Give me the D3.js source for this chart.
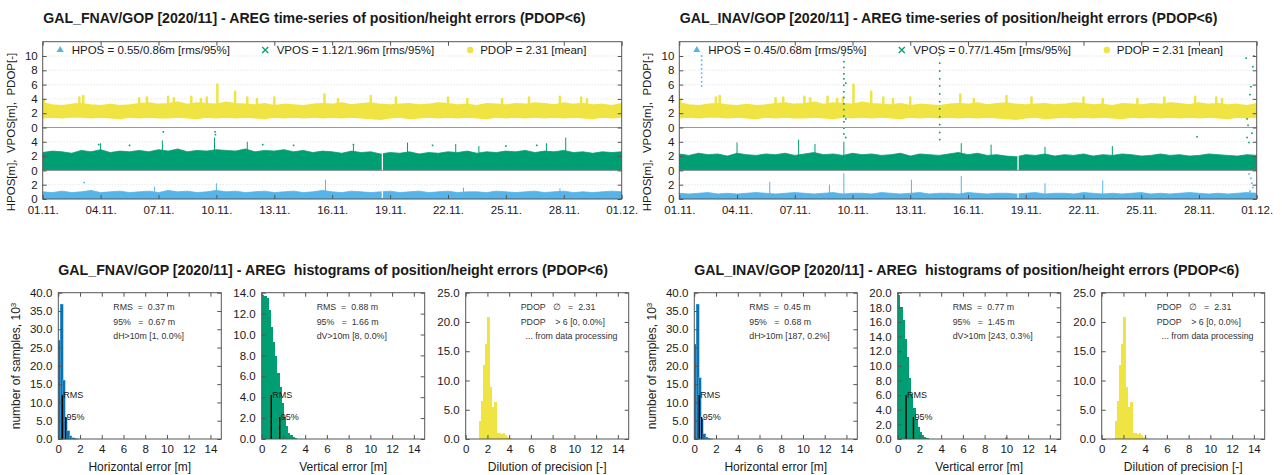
<!DOCTYPE html>
<html>
<head>
<meta charset="utf-8">
<script src="https://cdn.jsdelivr.net/npm/d3@7"></script>
<style>
  body { margin: 0; background: #fff; }
  svg { display: block; font-family: "Liberation Sans", Arial, sans-serif; }
  text { white-space: pre; }
</style>
</head>
<body>
<svg id="chart" width="1282" height="475"></svg>
<script>
// ---------------- data ----------------

// time axis: days since 01.11.2020, ticks every 3 days
const dayTicks = [0, 3, 6, 9, 12, 15, 18, 21, 24, 27, 30];
const dayLabels = ["01.11.", "04.11.", "07.11.", "10.11.", "13.11.", "16.11.", "19.11.", "22.11.", "25.11.", "28.11.", "01.12."];
// stacked y axis: HPOS 0..4, VPOS shifted by 4, PDOP shifted by 10
const tsTickValues = [0, 2, 4, 6, 8, 10, 12, 14, 16, 18, 20];
const tsTickLabels = ["0", "2", "0", "2", "4", "0", "2", "4", "6", "8", "10"];

// envelope of the scatter, sampled every half day (61 samples, day 0 .. 30)
const epochs = d3.range(0, 30.001, 0.5);
const pdopTop = [
  3.4, 3.1, 3.0, 3.2, 3.3, 3.1, 3.0, 3.2, 3.0, 3.1,
  3.3, 3.4, 3.2, 3.3, 3.5, 3.2, 3.4, 3.3, 3.2, 3.5,
  3.3, 3.2, 3.1, 3.3, 3.0, 3.2, 3.1, 3.0, 3.2, 3.3,
  3.2, 3.4, 3.1, 3.3, 3.4, 3.2, 3.1, 3.2, 3.3, 3.1,
  3.2, 3.4, 3.3, 3.1, 3.2, 3.0, 3.3, 3.2, 3.1, 3.3,
  3.2, 3.4, 3.3, 3.1, 3.4, 3.2, 3.3, 3.1, 3.2, 3.0,
  3.3];
const pdopLow = [
  1.4, 1.5, 1.4, 1.5, 1.5, 1.4, 1.5, 1.4, 1.3, 1.5,
  1.4, 1.5, 1.4, 1.4, 1.5, 1.4, 1.3, 1.5, 1.4, 1.5,
  1.4, 1.5, 1.4, 1.3, 1.5, 1.4, 1.5, 1.4, 1.5, 1.4,
  1.5, 1.4, 1.5, 1.4, 1.3, 1.2, 1.4, 1.5, 1.3, 1.4,
  1.5, 1.4, 1.5, 1.4, 1.5, 1.4, 1.3, 1.5, 1.4, 1.5,
  1.4, 1.5, 1.4, 1.5, 1.4, 1.5, 1.4, 1.3, 1.5, 1.4,
  1.5];
const fnavVTop = [
  2.5, 2.7, 2.6, 2.4, 2.8, 2.6, 2.9, 2.5, 2.7, 2.6,
  2.8, 2.6, 2.9, 2.7, 3.0, 2.6, 2.8, 2.7, 2.9, 2.8,
  2.7, 3.0, 2.6, 2.8, 2.7, 2.9, 2.6, 2.8, 2.5, 2.7,
  2.6, 2.4, 2.7, 2.5, 2.6, 2.3, 2.5, 2.4, 2.6, 2.3,
  2.5, 2.4, 2.6, 2.5, 2.7, 2.4, 2.6, 2.5, 2.7, 2.6,
  2.8, 2.5, 2.7, 2.6, 2.8, 2.5, 2.6, 2.4, 2.6, 2.5,
  2.6];
const fnavHTop = [
  1.0, 0.9, 1.1, 0.9, 1.0, 1.2, 0.9, 1.0, 1.1, 0.9,
  1.0, 1.1, 0.9, 1.2, 1.0, 1.1, 0.9, 1.0, 1.2, 1.0,
  1.1, 0.9, 1.0, 1.1, 0.9, 1.0, 1.1, 0.9, 1.0, 1.2,
  1.0, 0.9, 1.1, 1.0, 0.9, 1.0, 1.1, 0.9, 1.0, 1.1,
  0.9, 1.0, 1.1, 0.9, 1.0, 1.0, 0.9, 1.1, 1.0, 0.9,
  1.0, 1.1, 0.9, 1.0, 1.1, 0.9, 1.0, 0.9, 1.0, 1.1,
  1.0];
const inavVTop = [
  2.3, 2.1, 2.4, 2.2, 2.3, 2.0, 2.4, 2.2, 2.1, 2.3,
  2.2, 2.4, 2.1, 2.3, 2.5, 2.2, 2.3, 2.1, 2.4, 2.2,
  2.3, 2.1, 2.2, 2.4, 2.0, 2.3, 2.2, 2.1, 2.3, 2.5,
  2.2, 2.4, 2.1, 2.2, 2.0, 1.9, 2.2, 2.1, 2.3, 2.0,
  2.2, 2.1, 2.3, 2.0, 2.2, 2.1, 2.3, 2.2, 2.0, 2.1,
  2.3, 2.1, 2.2, 2.0, 2.1, 2.3, 2.2, 2.1, 2.0, 2.2,
  2.1];
const inavHTop = [
  0.8, 0.7, 0.8, 0.9, 0.7, 0.8, 0.7, 0.8, 0.9, 0.8,
  0.7, 0.8, 0.9, 0.8, 0.7, 0.8, 0.9, 0.7, 0.8, 0.8,
  0.7, 0.9, 0.8, 0.7, 0.8, 0.9, 0.7, 0.8, 0.8, 0.7,
  0.9, 0.8, 0.7, 0.8, 0.8, 0.7, 0.8, 0.9, 0.7, 0.8,
  0.8, 0.7, 0.9, 0.8, 0.7, 0.8, 0.7, 0.8, 0.9, 0.7,
  0.8, 0.7, 0.8, 0.9, 0.8, 0.7, 0.8, 0.7, 0.8, 0.9,
  0.8];
const dataGaps = [17.6];

// single peaks above the bands [day, value]
const pdopSpikes = [[0.05, 3.9], [1.9, 4.2], [2.1, 4.4], [5.0, 4.1], [5.4, 4.2], [6.5, 4.3], [6.8, 4.1],
  [7.7, 4.3], [8.2, 4.0], [8.5, 4.2], [9.05, 6.0], [9.97, 5.0], [10.6, 4.2], [11.1, 4.0], [12.0, 4.2],
  [14.6, 4.6], [15.3, 4.0], [17.0, 4.4], [18.3, 4.2], [21.0, 4.2], [22.0, 4.0], [23.8, 4.0],
  [25.2, 4.2], [26.8, 4.3], [27.9, 4.2], [28.2, 4.0]];
const fnavVSpikes = [[3.0, 3.8], [6.2, 4.2], [8.9, 4.6], [10.6, 4.0], [16.1, 3.5], [18.9, 3.9],
  [21.4, 3.7], [22.6, 3.4], [26.1, 3.8], [27.1, 4.6]];
const fnavHSpikes = [[5.8, 1.7], [9.0, 2.2], [14.65, 2.7], [21.8, 1.6], [26.8, 1.5]];
const fnavVDots = [[6.25, 5.4], [8.93, 5.4], [8.95, 5.0], [2.9, 3.6], [4.5, 3.5], [11.4, 3.6],
  [13.0, 3.5], [16.1, 3.6], [20.2, 3.5], [24.0, 3.4], [25.6, 3.5]];
const fnavHDots = [[2.15, 2.3]];

const inavVSpikes = [[3.0, 3.9], [6.2, 4.3], [7.05, 3.7], [8.55, 4.0], [14.65, 3.8], [16.2, 3.6],
  [19.0, 3.3], [22.5, 3.4]];
const inavHSpikes = [[4.7, 2.4], [7.8, 2.0], [8.55, 3.6], [12.06, 2.7], [14.65, 3.2], [19.0, 2.2], [22.0, 2.6]];
const inavVDots = [
  [8.55, 16.1], [8.55, 15.2], [8.55, 14.4], [8.55, 13.5], [8.55, 12.8], [8.55, 11.9], [8.55, 11.0],
  [8.55, 10.2], [8.55, 9.3], [8.55, 8.5], [8.55, 7.6], [8.55, 6.8], [8.55, 5.9], [8.55, 5.1],
  [8.65, 4.6], [8.65, 7.2], [8.65, 12.2],
  [13.53, 16.1], [13.53, 15.0], [13.53, 13.9], [13.53, 12.8], [13.53, 11.8], [13.53, 10.7],
  [13.53, 9.6], [13.53, 8.6], [13.53, 7.5], [13.53, 6.4], [13.53, 5.3], [13.53, 4.3],
  [26.9, 4.7], [29.45, 15.7], [29.8, 14.5], [29.7, 11.7], [29.65, 10.6], [29.5, 7.2],
  [29.55, 6.3], [29.5, 4.6], [29.6, 3.9], [29.75, 5.2], [29.85, 16.0]];
const inavHDots = [
  [1.16, 20.0], [1.16, 19.4], [1.16, 18.8], [1.16, 18.2], [1.16, 17.6], [1.16, 17.0], [1.16, 16.4], [1.16, 15.8],
  [29.6, 3.5], [29.7, 2.9], [29.75, 2.2], [29.8, 1.6], [29.65, 1.1]];

// histograms, 0.2 m / 0.2 bins, counts in 10^3
const binWidth = 0.2;
const fnavHBins = [27.0, 36.8, 16.1, 6.0, 2.2, 0.9, 0.4, 0.2, 0.1];
const fnavVBins = [13.8, 13.7, 13.5, 12.3, 10.7, 9.3, 7.9, 6.3, 5.0, 3.4, 2.1, 1.2, 0.6, 0.35, 0.15, 0.05];
const inavHBins = [25.9, 36.8, 16.7, 5.5, 1.4, 0.5, 0.2, 0.1];
const inavVBins = [19.7, 18.0, 16.2, 13.7, 11.2, 8.3, 6.2, 4.3, 2.7, 1.6, 0.9, 0.55, 0.25, 0.1];
const pdopBinStart = 1.2;
const pdopBins = [3.0, 6.5, 12.7, 16.2, 20.9, 8.9, 5.4, 6.3, 1.1, 1.0, 0.85, 1.0, 0.7, 0.4, 0.15];
const histXTicks = [0, 2, 4, 6, 8, 10, 12, 14];

// ---------------- drawing ----------------
const svg = d3.select("#chart");
const COL = { h: "#56b4e9", hDark: "#0a72b4", v: "#009e73", p: "#f0e442", text: "#1a1a1a", frame: "#555" };

const tsTop = 41.7, tsBottom = 199;

const tsPanels = [
  { left: 42.7, right: 621.7, title: "GAL_FNAV/GOP [2020/11] - AREG time-series of position/height errors (PDOP<6)",
    vTop: fnavVTop, hTop: fnavHTop, vSpikes: fnavVSpikes, hSpikes: fnavHSpikes, vDots: fnavVDots, hDots: fnavHDots,
    legend: ["HPOS = 0.55/0.86m [rms/95%]", "VPOS = 1.12/1.96m [rms/95%]", "PDOP = 2.31 [mean]"] },
  { left: 679.3, right: 1256.7, title: "GAL_INAV/GOP [2020/11] - AREG time-series of position/height errors (PDOP<6)",
    vTop: inavVTop, hTop: inavHTop, vSpikes: inavVSpikes, hSpikes: inavHSpikes, vDots: inavVDots, hDots: inavHDots,
    legend: ["HPOS = 0.45/0.68m [rms/95%]", "VPOS = 0.77/1.45m [rms/95%]", "PDOP = 2.31 [mean]"] }
];

function fitText(sel, target) {
  const w = sel.node().getComputedTextLength();
  sel.attr("font-size", parseFloat(sel.attr("font-size")) * target / w);
}

function styleAxis(g, size) {
  g.select(".domain").remove();
  g.selectAll(".tick line").attr("stroke", COL.frame);
  g.selectAll("text").attr("fill", COL.text).attr("font-size", size)
    .attr("font-family", "Liberation Sans, Arial, sans-serif");
}

tsPanels.forEach((p, k) => {
  const x = d3.scaleLinear().domain([0, 30]).range([p.left, p.right]);
  const y = d3.scaleLinear().domain([0, 22]).range([tsBottom, tsTop]);
  const g = svg.append("g");

  g.append("clipPath").attr("id", "clip" + k)
    .append("rect").attr("x", p.left).attr("y", tsTop).attr("width", p.right - p.left).attr("height", tsBottom - tsTop);

  // grid
  g.selectAll("line.grid").data(tsTickValues.filter(v => v > 0 && v !== 4 && v !== 10)).join("line")
    .attr("x1", p.left).attr("x2", p.right).attr("y1", d => y(d)).attr("y2", d => y(d))
    .attr("stroke", "#d6d6d6").attr("stroke-width", 0.8).attr("stroke-dasharray", "1,2");

  const plot = g.append("g").attr("clip-path", `url(#clip${k})`);

  const area = (offset, top, low) => d3.area()
    .x((d, i) => x(epochs[i]))
    .y0((d, i) => y(offset + (low ? low[i] : 0)))
    .y1((d, i) => y(offset + top[i]));

  // PDOP band (offset 10)
  plot.append("path").datum(pdopTop).attr("d", area(10, pdopTop, pdopLow))
    .attr("fill", COL.p).attr("stroke", COL.p).attr("stroke-width", 2).attr("stroke-linejoin", "round");
  plot.selectAll("line.ps").data(pdopSpikes).join("line")
    .attr("x1", d => x(d[0])).attr("x2", d => x(d[0]))
    .attr("y1", y(12.6)).attr("y2", d => y(10 + d[1]))
    .attr("stroke", COL.p).attr("stroke-width", 2.5).attr("stroke-linecap", "round");

  // VPOS band (offset 4)
  plot.append("path").datum(p.vTop).attr("d", area(4, p.vTop))
    .attr("fill", COL.v).attr("stroke", COL.v).attr("stroke-width", 0.8);
  plot.selectAll("line.vs").data(p.vSpikes).join("line")
    .attr("x1", d => x(d[0])).attr("x2", d => x(d[0]))
    .attr("y1", y(5.5)).attr("y2", d => y(4 + d[1]))
    .attr("stroke", COL.v).attr("stroke-width", 1);
  plot.selectAll("rect.vd").data(p.vDots).join("rect")
    .attr("x", d => x(d[0]) - 0.8).attr("y", d => y(4 + d[1]) - 0.8)
    .attr("width", 1.6).attr("height", 1.6).attr("fill", COL.v);

  // HPOS band (offset 0)
  plot.append("path").datum(p.hTop).attr("d", area(0, p.hTop))
    .attr("fill", COL.h).attr("stroke", COL.h).attr("stroke-width", 0.8);
  plot.selectAll("line.hs").data(p.hSpikes).join("line")
    .attr("x1", d => x(d[0])).attr("x2", d => x(d[0]))
    .attr("y1", y(0.5)).attr("y2", d => y(d[1]))
    .attr("stroke", COL.h).attr("stroke-width", 1);
  plot.selectAll("rect.hd").data(p.hDots).join("rect")
    .attr("x", d => x(d[0]) - 0.8).attr("y", d => y(d[1]) - 0.8)
    .attr("width", 1.6).attr("height", 1.6).attr("fill", COL.h);

  // data gaps
  plot.selectAll("line.gap").data(dataGaps).join("line")
    .attr("x1", d => x(d)).attr("x2", d => x(d)).attr("y1", y(0.15)).attr("y2", y(7.5))
    .attr("stroke", "#fff").attr("stroke-width", 1.3);

  // separators between the three sub-scales
  g.selectAll("line.sep").data([4, 10]).join("line")
    .attr("x1", p.left).attr("x2", p.right).attr("y1", d => y(d)).attr("y2", d => y(d))
    .attr("stroke", "#999").attr("stroke-width", 1);

  // frame + axes
  g.append("rect").attr("x", p.left).attr("y", tsTop).attr("width", p.right - p.left).attr("height", tsBottom - tsTop)
    .attr("fill", "none").attr("stroke", COL.frame);

  g.append("g").attr("transform", `translate(${p.left},0)`)
    .call(d3.axisLeft(y).tickValues(tsTickValues).tickSize(-4).tickPadding(5)
      .tickFormat((d, i) => tsTickLabels[i]))
    .call(a => styleAxis(a, 11.5));
  g.append("g").attr("transform", `translate(${p.right},0)`)
    .call(d3.axisRight(y).tickValues(tsTickValues).tickSize(-4).tickFormat(""))
    .call(a => styleAxis(a, 11));
  g.append("g").attr("transform", `translate(0,${tsBottom})`)
    .call(d3.axisBottom(x).tickValues(dayTicks).tickSize(-4).tickPadding(7)
      .tickFormat((d, i) => dayLabels[i]))
    .call(a => styleAxis(a, 11.5));
  g.append("g").attr("transform", `translate(0,${tsTop})`)
    .call(d3.axisTop(x).tickValues(dayTicks).tickSize(-4).tickFormat(""))
    .call(a => styleAxis(a, 11));

  // legend row
  const ly = 50;
  const lg = g.append("g").attr("font-size", 11.5).attr("fill", COL.text);
  lg.append("path").attr("d", d3.symbol(d3.symbolTriangle, 22)())
    .attr("transform", `translate(${p.left + 17.5},${ly})`).attr("fill", COL.h);
  lg.append("path").attr("d", "M-3,-3L3,3M-3,3L3,-3")
    .attr("transform", `translate(${p.left + 222.5},${ly})`).attr("stroke", COL.v).attr("stroke-width", 1.3);
  lg.append("circle").attr("cx", p.left + 427.5).attr("cy", ly).attr("r", 3.2).attr("fill", COL.p);
  [29, 234, 437.5].forEach((dx, i) => {
    lg.append("text").attr("x", p.left + dx).attr("y", ly).attr("dy", "0.36em").text(p.legend[i]);
  });

  // y label
  g.append("text").attr("transform", `translate(${p.left - 28},132) rotate(-90)`)
    .attr("text-anchor", "middle").attr("font-size", 11.5).attr("fill", COL.text)
    .text("HPOS[m],  VPOS[m],  PDOP[-]");

  // title
  const t = g.append("text").attr("x", p.left + 0.5).attr("y", 23).attr("font-weight", "bold")
    .attr("font-size", 13).attr("fill", COL.text).text(p.title);
  fitText(t, k === 0 ? 543 : 538);
});

// ---------------- histograms ----------------
const histTop = 292.7, histBottom = 439, histWidth = 163;

const histGroups = [
  { offset: 0, title: "GAL_FNAV/GOP [2020/11] - AREG  histograms of position/height errors (PDOP<6)",
    panels: [
      { left: 58.3, yMax: 40, yStep: 5, bins: fnavHBins, start: 0, fill: COL.hDark, stroke: COL.h,
        rms: [0.37, 12], p95: [0.67, 6], xLabel: "Horizontal error [m]",
        notes: ["RMS  =  0.37 m", "95%   =  0.67 m", "dH>10m [1, 0.0%]"] },
      { left: 261.7, yMax: 14, yStep: 2, bins: fnavVBins, start: 0, fill: COL.v, stroke: "none",
        rms: [0.88, 4.2], p95: [1.66, 2.1], xLabel: "Vertical error [m]",
        notes: ["RMS  =  0.88 m", "95%   =  1.66 m", "dV>10m [8, 0.0%]"] },
      { left: 465.7, yMax: 25, yStep: 5, bins: pdopBins, start: pdopBinStart, fill: COL.p, stroke: "none",
        xLabel: "Dilution of precision [-]",
        notes: ["PDOP   \u2205   =  2.31", "PDOP    > 6 [0, 0.0%]", "  ... from data processing"] }
    ] },
  { offset: 636, title: "GAL_INAV/GOP [2020/11] - AREG  histograms of position/height errors (PDOP<6)",
    panels: [
      { left: 58.3, yMax: 40, yStep: 5, bins: inavHBins, start: 0, fill: COL.hDark, stroke: COL.h,
        rms: [0.45, 12], p95: [0.68, 6], xLabel: "Horizontal error [m]",
        notes: ["RMS  =  0.45 m", "95%   =  0.68 m", "dH>10m [187, 0.2%]"] },
      { left: 261.7, yMax: 20, yStep: 2, bins: inavVBins, start: 0, fill: COL.v, stroke: "none",
        rms: [0.77, 6], p95: [1.45, 3], xLabel: "Vertical error [m]", far: [[9.9, 0.2]],
        notes: ["RMS  =  0.77 m", "95%   =  1.45 m", "dV>10m [243, 0.3%]"] },
      { left: 465.7, yMax: 25, yStep: 5, bins: pdopBins, start: pdopBinStart, fill: COL.p, stroke: "none",
        xLabel: "Dilution of precision [-]",
        notes: ["PDOP   \u2205   =  2.31", "PDOP    > 6 [0, 0.0%]", "  ... from data processing"] }
    ] }
];

histGroups.forEach((grp, gi) => {
  grp.panels.forEach((p, pi) => {
    const left = p.left + grp.offset;
    const x = d3.scaleLinear().domain([0, 15]).range([left, left + histWidth]);
    const y = d3.scaleLinear().domain([0, p.yMax]).range([histBottom, histTop]);
    const g = svg.append("g");

    g.selectAll("rect.bar").data(p.bins).join("rect")
      .attr("x", (d, i) => x(p.start + i * binWidth))
      .attr("width", x(binWidth) - x(0) + 0.5)
      .attr("y", d => y(d)).attr("height", d => histBottom - y(d))
      .attr("fill", p.fill).attr("stroke", p.stroke).attr("stroke-width", 0.5)
      .attr("shape-rendering", "crispEdges");
    if (p.far) {
      g.selectAll("rect.far").data(p.far).join("rect")
        .attr("x", d => x(d[0])).attr("width", x(binWidth) - x(0))
        .attr("y", d => y(d[1])).attr("height", d => histBottom - y(d[1])).attr("fill", p.fill);
    }

    // RMS / 95% markers
    if (p.rms) {
      [[p.rms, "RMS"], [p.p95, "95%"]].forEach(([m, lab]) => {
        g.append("line").attr("x1", x(m[0])).attr("x2", x(m[0]))
          .attr("y1", histBottom).attr("y2", y(m[1]))
          .attr("stroke", "#000").attr("stroke-width", 1.4);
        g.append("text").attr("x", x(m[0]) + 1).attr("y", y(m[1])).attr("dy", "0.35em")
          .attr("font-size", 9).attr("fill", COL.text).text(lab);
      });
    }

    g.append("rect").attr("x", left).attr("y", histTop).attr("width", histWidth).attr("height", histBottom - histTop)
      .attr("fill", "none").attr("stroke", COL.frame);

    const yTicks = d3.range(0, p.yMax + 0.001, p.yStep);
    g.append("g").attr("transform", `translate(${left},0)`)
      .call(d3.axisLeft(y).tickValues(yTicks).tickSize(-4).tickPadding(6).tickFormat(d3.format(".1f")))
      .call(a => styleAxis(a, 11.5));
    g.append("g").attr("transform", `translate(${left + histWidth},0)`)
      .call(d3.axisRight(y).tickValues(yTicks).tickSize(-4).tickFormat(""))
      .call(a => styleAxis(a, 11));
    g.append("g").attr("transform", `translate(0,${histBottom})`)
      .call(d3.axisBottom(x).tickValues(histXTicks).tickSize(-4).tickPadding(6))
      .call(a => styleAxis(a, 11.5));
    g.append("g").attr("transform", `translate(0,${histTop})`)
      .call(d3.axisTop(x).tickValues(histXTicks).tickSize(-4).tickFormat(""))
      .call(a => styleAxis(a, 11));

    // notes
    g.selectAll("text.note").data(p.notes).join("text")
      .attr("x", left + 55).attr("y", (d, i) => 307.3 + i * 14.5).attr("dy", "0.35em")
      .attr("font-size", 8.8).attr("fill", "#333").text(d => d);

    g.append("text").attr("x", left + histWidth / 2).attr("y", 471).attr("text-anchor", "middle")
      .attr("font-size", 12).attr("fill", COL.text).text(p.xLabel);

    if (pi === 0) {
      const yl = g.append("text").attr("transform", `translate(${left - 38},366) rotate(-90)`)
        .attr("text-anchor", "middle").attr("font-size", 12).attr("fill", COL.text);
      yl.append("tspan").text("number of samples, 10");
      yl.append("tspan").attr("font-size", 8).attr("dy", "-0.6em").text("3");
    }
  });

  const t = svg.append("text").attr("x", grp.panels[0].left + grp.offset).attr("y", 274.5)
    .attr("font-weight", "bold").attr("font-size", 13).attr("fill", COL.text).text(grp.title);
  fitText(t, gi === 0 ? 550 : 545);
});
</script>
</body>
</html>
